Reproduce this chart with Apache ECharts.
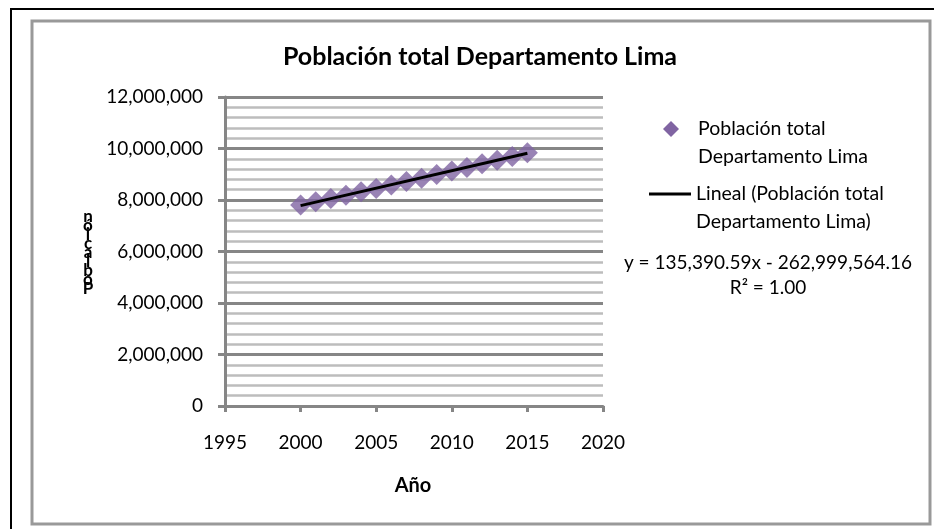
<!DOCTYPE html>
<html>
<head>
<meta charset="utf-8">
<script src="https://cdn.jsdelivr.net/npm/echarts@6/dist/echarts.min.js"></script>
<style>
html,body{margin:0;padding:0;background:#fff;}
#chart{width:934px;height:529px;}
</style>
</head>
<body>
<div id="chart"></div>
<script>
// ---- data ----
const years = [2000, 2001, 2002, 2003, 2004, 2005, 2006, 2007, 2008, 2009, 2010, 2011, 2012, 2013, 2014, 2015];
const population = [7807600, 7932600, 8059100, 8187000, 8316500, 8447400, 8579800, 8713700, 8849100, 8986000, 9124400, 9264200, 9405600, 9548400, 9692700, 9838500];
const trendYears = [2000, 2015];
const trendValues = [7781616, 9812475];
const xTicks = [1995, 2000, 2005, 2010, 2015, 2020];
const yTicks = [0, 2000000, 4000000, 6000000, 8000000, 10000000, 12000000];

const titleText = 'Población total Departamento Lima';
const seriesName = 'Población total\nDepartamento Lima';
const trendName = 'Lineal (Población total\nDepartamento Lima)';
const equationText = 'y = 135,390.59x - 262,999,564.16';
const r2Text = 'R² = 1.00';
const xName = 'Año';
const yNameStacked = 'n\nó\ni\nc\na\nl\nb\no\nP';

const FONT = 'Lato, "Open Sans", sans-serif';
const PURPLE = '#8064A2';

const chart = echarts.init(document.getElementById('chart'));
const fmt = v => v.toString().replace(/\B(?=(\d{3})+(?!\d))/g, ',');

chart.setOption({
  backgroundColor: '#ffffff',
  animation: false,
  grid: { left: 225, right: 331, top: 97, bottom: 123, containLabel: false },
  xAxis: {
    type: 'value',
    min: xTicks[0], max: xTicks[xTicks.length - 1], interval: 5,
    axisLine: { show: true, lineStyle: { color: '#868686', width: 3 } },
    axisTick: { show: true, length: 6, lineStyle: { color: '#868686', width: 3 } },
    axisLabel: { formatter: v => String(v), color: '#000', fontSize: 19, fontFamily: FONT, margin: 27 },
    splitLine: { show: false }
  },
  yAxis: {
    type: 'value',
    min: yTicks[0], max: yTicks[yTicks.length - 1], interval: 2000000,
    axisLine: { show: true, lineStyle: { color: '#868686', width: 3 } },
    axisTick: { show: true, length: 7, lineStyle: { color: '#868686', width: 3 } },
    axisLabel: { formatter: fmt, color: '#000', fontSize: 19, fontFamily: FONT, margin: 22 },
    splitLine: { show: true, lineStyle: { color: '#868686', width: 3 } },
    minorTick: { show: false, splitNumber: 5 },
    minorSplitLine: { show: true, lineStyle: { color: '#bdbdbd', width: 2.5 } }
  },
  series: [
    {
      name: seriesName,
      type: 'scatter',
      symbol: 'diamond',
      symbolSize: 21,
      itemStyle: { color: PURPLE },
      data: years.map((y, i) => [y, population[i]]),
      z: 2
    },
    {
      name: trendName,
      type: 'line',
      showSymbol: false,
      symbol: 'none',
      lineStyle: { color: '#000', width: 3 },
      data: trendYears.map((y, i) => [y, trendValues[i]]),
      z: 3
    }
  ],
  graphic: [
    { type: 'rect', shape: { x: 11, y: 9, width: 1000, height: 600 }, style: { fill: 'none', stroke: '#000', lineWidth: 2 }, silent: true, z: -10 },
    { type: 'rect', shape: { x: 32, y: 21, width: 898, height: 503 }, style: { fill: 'none', stroke: '#999999', lineWidth: 3 }, silent: true, z: -10 },
    { type: 'text', x: 480, y: 57, style: { text: titleText, font: 'bold 25px ' + FONT, fill: '#000', align: 'center', verticalAlign: 'middle' } },
    { type: 'text', x: 413, y: 486, style: { text: xName, font: 'bold 20px ' + FONT, fill: '#000', align: 'center', verticalAlign: 'middle' } },
    { type: 'text', x: 88, y: 253, style: { text: yNameStacked, font: 'bold 17px ' + FONT, lineHeight: 9, fill: '#000', align: 'center', verticalAlign: 'middle' } },
    // legend
    { type: 'polygon', shape: { points: [[671, 121], [679, 129], [671, 137], [663, 129]] }, style: { fill: PURPLE } },
    { type: 'text', x: 698, y: 143, style: { text: seriesName, font: '19.5px ' + FONT, lineHeight: 28, fill: '#000', align: 'left', verticalAlign: 'middle' } },
    { type: 'line', shape: { x1: 649, y1: 194, x2: 691, y2: 194 }, style: { stroke: '#000', lineWidth: 3 } },
    { type: 'text', x: 696, y: 208, style: { text: trendName, font: '19.5px ' + FONT, lineHeight: 28, fill: '#000', align: 'left', verticalAlign: 'middle' } },
    { type: 'text', x: 768, y: 263, style: { text: equationText, font: '19px ' + FONT, fill: '#000', align: 'center', verticalAlign: 'middle' } },
    { type: 'text', x: 768, y: 288, style: { text: r2Text, font: '19px ' + FONT, fill: '#000', align: 'center', verticalAlign: 'middle' } }
  ]
});
</script>
</body>
</html>
